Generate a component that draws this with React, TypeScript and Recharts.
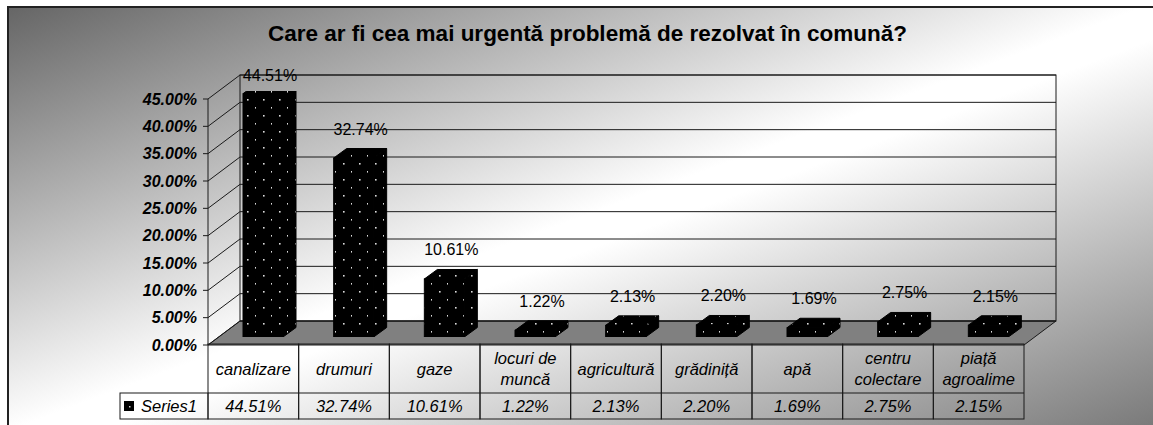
import { BarChart, Bar, XAxis, YAxis, CartesianGrid, ReferenceArea, LabelList } from 'recharts'

const title = 'Care ar fi cea mai urgentă problemă de rezolvat în comună?'
const categories = [
  'canalizare',
  'drumuri',
  'gaze',
  'locuri de muncă',
  'agricultură',
  'grădiniță',
  'apă',
  'centru colectare',
  'piață agroalime',
]
const series1 = [44.51, 32.74, 10.61, 1.22, 2.13, 2.2, 1.69, 2.75, 2.15]
const seriesName = 'Series1'
const yTicks = [0, 5, 10, 15, 20, 25, 30, 35, 40, 45]

const data = categories.map((name, i) => ({ name, value: series1[i] }))

const W = 1153
const H = 425
// plot plane = front face of the bars; the axis/table plane and the back wall are offsets of it
const FRONT = { dx: -10, dy: 8 }
const BACK = { dx: 22, dy: -16 }
const BAR_DEPTH = { dx: 13, dy: -9.5 }
const MARGIN = { top: 91, right: 119, bottom: 8, left: 118 }
const Y_AXIS_W = 100
const X_AXIS_H = 80
const PLOT_L = MARGIN.left + Y_AXIS_W
const PLOT_R = W - MARGIN.right
const PLOT_T = MARGIN.top
const PLOT_B = H - MARGIN.bottom - X_AXIS_H
const BAND = (PLOT_R - PLOT_L) / categories.length
const TABLE_TOP = PLOT_B + FRONT.dy - 1
const CAT_ROW_H = 49
const VAL_ROW_H = 26
const FONT = 'Arial, "Liberation Sans", sans-serif'
const LINE = '#1a1a1a'

const pct = (v: number) => `${v.toFixed(2)}%`

function Walls(props: any) {
  const { x, y, width, height } = props
  const bl = x + BACK.dx
  const br = x + width + BACK.dx
  const bt = y + BACK.dy
  const bb = y + height + BACK.dy
  const fl = x + FRONT.dx
  const fr = x + width + FRONT.dx
  const ft = y + FRONT.dy
  const fb = y + height + FRONT.dy
  return (
    <g>
      <polygon points={`${fl},${fb} ${fr},${fb} ${br},${bb} ${bl},${bb}`} fill="#808080" stroke={LINE} />
      <rect x={bl} y={bt} width={br - bl} height={bb - bt} fill="none" stroke={LINE} />
      <line x1={fl} y1={ft} x2={fl} y2={fb} stroke={LINE} />
    </g>
  )
}

function YTick(props: any) {
  const { y, payload } = props
  const fx = PLOT_L + FRONT.dx
  const fy = y + FRONT.dy
  return (
    <g>
      <line x1={fx - 5} y1={fy} x2={fx} y2={fy} stroke={LINE} />
      <line x1={fx} y1={fy} x2={PLOT_L + BACK.dx} y2={y + BACK.dy} stroke={LINE} />
      <text
        x={fx - 11}
        y={fy}
        textAnchor="end"
        dominantBaseline="central"
        fontFamily={FONT}
        fontSize={16}
        fontWeight="bold"
        fontStyle="italic"
        fill="#000"
      >
        {pct(payload.value)}
      </text>
    </g>
  )
}

function XTick(props: any) {
  const { x, payload } = props
  const index = props.index ?? payload.index
  const left = x + FRONT.dx - BAND / 2
  const cx = left + BAND / 2
  const label: string = payload.value
  const sp = label.lastIndexOf(' ')
  const lines = sp > 0 ? [label.slice(0, sp), label.slice(sp + 1)] : [label]
  const catMid = TABLE_TOP + CAT_ROW_H / 2
  const valTop = TABLE_TOP + CAT_ROW_H
  const txt = { fontFamily: FONT, fontSize: 16.5, fontStyle: 'italic', fill: '#000' } as const
  return (
    <g>
      <rect x={left} y={TABLE_TOP} width={BAND} height={CAT_ROW_H + VAL_ROW_H} fill="none" stroke={LINE} />
      <line x1={left} y1={valTop} x2={left + BAND} y2={valTop} stroke={LINE} />
      {lines.map((l, i) => (
        <text
          key={i}
          x={cx}
          y={catMid + (i - (lines.length - 1) / 2) * 20.5}
          textAnchor="middle"
          dominantBaseline="central"
          {...txt}
        >
          {l}
        </text>
      ))}
      <text x={cx} y={valTop + VAL_ROW_H / 2} textAnchor="middle" dominantBaseline="central" {...txt}>
        {pct(data[index].value)}
      </text>
      {index === 0 && (
        <g>
          <rect x={left - 88} y={valTop} width={88} height={VAL_ROW_H} fill="none" stroke={LINE} />
          <rect x={left - 84} y={valTop + 8} width={10} height={10} fill="#000" />
          <rect x={left - 79} y={valTop + 13} width={1.5} height={1.5} fill="#ccc" />
          <text x={left - 67} y={valTop + VAL_ROW_H / 2} dominantBaseline="central" {...txt}>
            {seriesName}
          </text>
        </g>
      )}
    </g>
  )
}

function Bar3D(props: any) {
  const { x, y, width: w, height: h } = props
  if (!w || h == null) return null
  const { dx, dy } = BAR_DEPTH
  const top = `${x},${y} ${x + dx},${y + dy} ${x + w + dx},${y + dy} ${x + w},${y}`
  const side = `${x + w},${y} ${x + w + dx},${y + dy} ${x + w + dx},${y + h + dy} ${x + w},${y + h}`
  return (
    <g stroke="#000" strokeWidth={1} fill="url(#dots)">
      <polygon points={top} />
      <polygon points={side} />
      <rect x={x} y={y} width={w} height={h} />
    </g>
  )
}

const renderLabel = (p: any) => {
  const x = Number(p.x)
  const y = Number(p.y)
  const w = Number(p.width)
  const ly = Math.max(y - 29, PLOT_T - 16)
  return (
    <text
      x={x + w / 2 + 7}
      y={ly}
      textAnchor="middle"
      dominantBaseline="central"
      fontFamily={FONT}
      fontSize={16}
      fill="#000"
    >
      {pct(Number(p.value))}
    </text>
  )
}

export default function App() {
  return (
    <div style={{ position: 'absolute', left: 0, top: 0, width: W, height: H, overflow: 'hidden', background: '#fff' }}>
      <div
        style={{
          position: 'absolute',
          left: 7,
          top: 6,
          width: 1180,
          height: 440,
          borderLeft: '2px solid #222',
          borderTop: '2px solid #222',
          background: 'linear-gradient(to bottom right, #666666 0%, #ffffff 48%, #ffffff 52%, #6e6e6e 100%)',
        }}
      />
      <div
        style={{
          position: 'absolute',
          left: 11,
          top: 21,
          width: W,
          lineHeight: '26px',
          textAlign: 'center',
          fontFamily: FONT,
          fontSize: 22.5,
          fontWeight: 'bold',
          color: '#000',
        }}
      >
        {title}
      </div>
      <div style={{ position: 'absolute', left: 0, top: 0 }}>
        <BarChart width={W} height={H} data={data} margin={MARGIN} barSize={40}>
          <defs>
            <pattern id="dots" width="16" height="16" patternUnits="userSpaceOnUse">
              <rect width="16" height="16" fill="#000" />
              <rect x="7" y="3" width="1.6" height="1.6" fill="#ddd" />
              <rect x="15" y="11" width="1.6" height="1.6" fill="#ddd" />
            </pattern>
          </defs>
          <ReferenceArea y1={0} y2={45} shape={(p: any) => <Walls {...p} />} zIndex={-200} ifOverflow="visible" />
          <CartesianGrid
            vertical={false}
            horizontal={(p: any) => (
              <line
                key={`g-${p.index}-${p.y1}`}
                x1={p.x1 + BACK.dx}
                y1={p.y1 + BACK.dy}
                x2={p.x2 + BACK.dx}
                y2={p.y2 + BACK.dy}
                stroke={LINE}
              />
            )}
          />
          <XAxis
            dataKey="name"
            height={X_AXIS_H}
            interval={0}
            tickLine={false}
            axisLine={false}
            tick={(p: any) => <XTick {...p} />}
          />
          <YAxis
            width={Y_AXIS_W}
            domain={[0, 45]}
            ticks={yTicks}
            interval={0}
            allowDataOverflow
            tickLine={false}
            axisLine={false}
            tick={(p: any) => <YTick {...p} />}
          />
          <Bar dataKey="value" isAnimationActive={false} shape={(p: any) => <Bar3D {...p} />}>
            <LabelList dataKey="value" content={renderLabel} />
          </Bar>
        </BarChart>
      </div>
    </div>
  )
}
